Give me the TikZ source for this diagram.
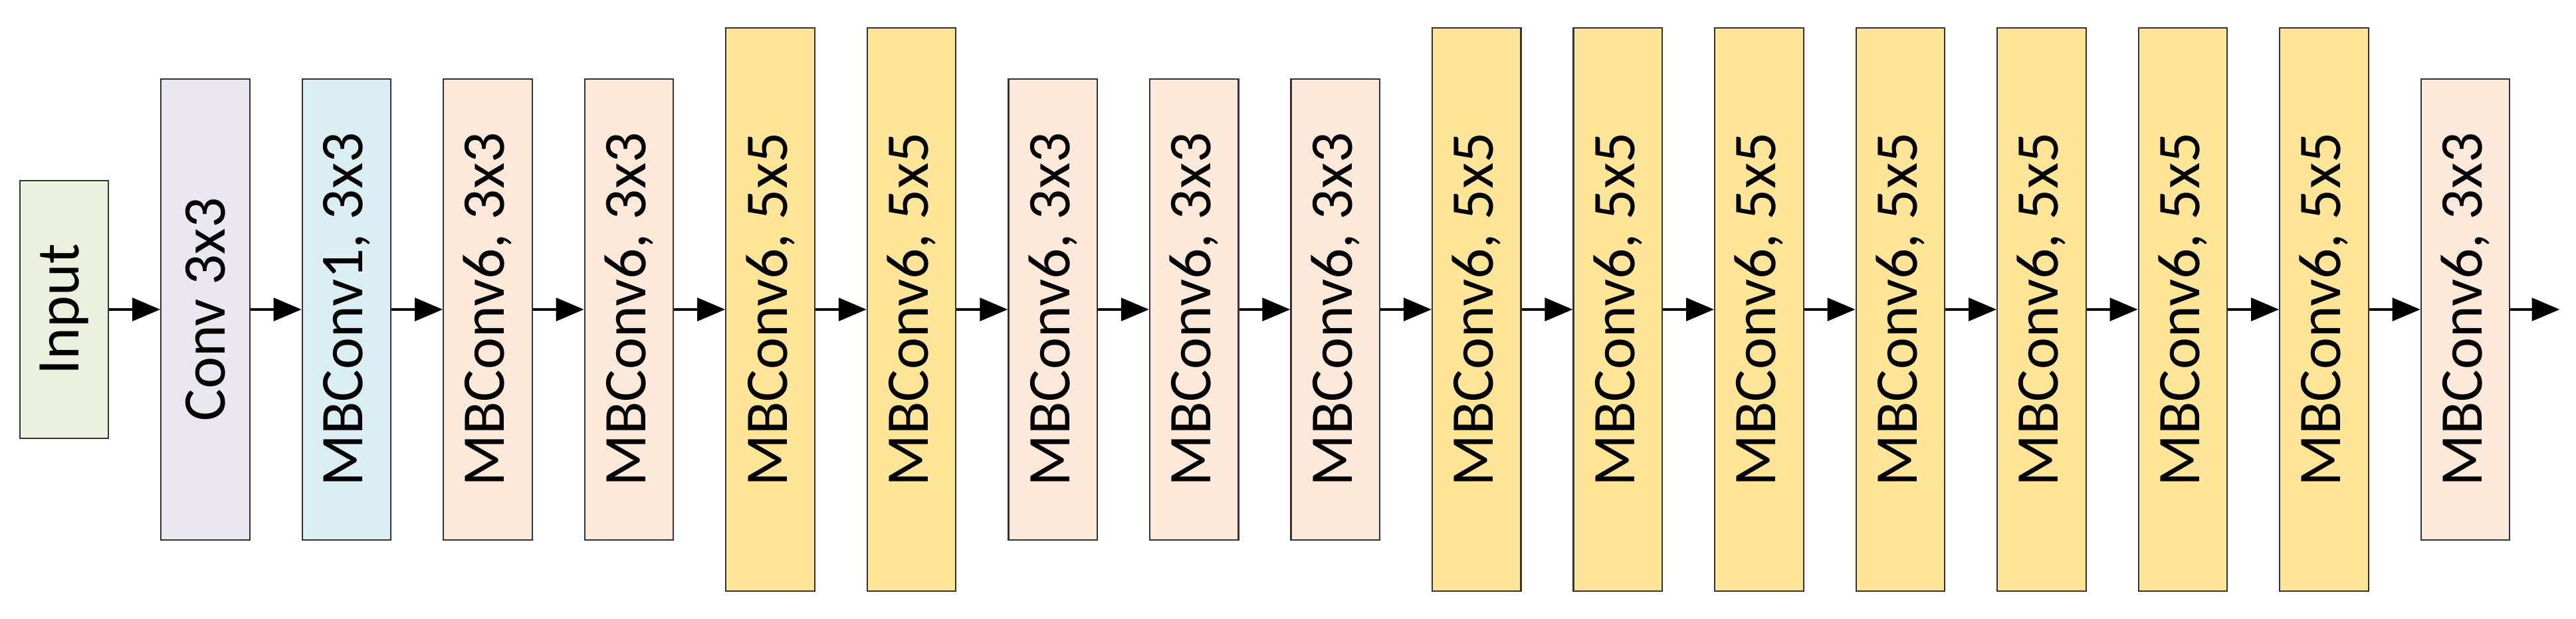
\documentclass[tikz,border=0pt]{standalone}
\usepackage{fontspec}
\setmainfont{Carlito}
\usetikzlibrary{positioning,arrows.meta}
\definecolor{inCol}{HTML}{EBF1DE}
\definecolor{convCol}{HTML}{EAE7F1}
\definecolor{mbOneCol}{HTML}{DBEEF4}
\definecolor{threeCol}{HTML}{FDE9DA}
\definecolor{fiveCol}{HTML}{FFE597}
\tikzset{
  blk/.style={draw=black!80, line width=0.5pt, minimum width=1.08cm, inner sep=0pt, font=\fontsize{21}{24}\selectfont},
  small/.style={blk, minimum height=3.14cm, fill=inCol},
  mid/.style={blk, minimum height=5.62cm},
  tall/.style={blk, minimum height=6.86cm, fill=fiveCol},
  flow/.style={-{Triangle[length=0.34cm,width=0.28cm]}, line width=0.9pt}
}
\begin{document}
\begin{tikzpicture}[node distance=0.622cm]
  \useasboundingbox (0,0) rectangle (31.36,7.54);
  \node[small] (b0) at (0.78,3.77) {\rotatebox{90}{Input}};
  \node[mid, fill=convCol, right=of b0] (b1) {\rotatebox{90}{Conv 3x3}};
  \node[mid, fill=mbOneCol, right=of b1] (b2) {\rotatebox{90}{MBConv1, 3x3}};
  \node[mid, fill=threeCol, right=of b2] (b3) {\rotatebox{90}{MBConv6, 3x3}};
  \node[mid, fill=threeCol, right=of b3] (b4) {\rotatebox{90}{MBConv6, 3x3}};
  \node[tall, right=of b4] (b5) {\rotatebox{90}{MBConv6, 5x5}};
  \node[tall, right=of b5] (b6) {\rotatebox{90}{MBConv6, 5x5}};
  \node[mid, fill=threeCol, right=of b6] (b7) {\rotatebox{90}{MBConv6, 3x3}};
  \node[mid, fill=threeCol, right=of b7] (b8) {\rotatebox{90}{MBConv6, 3x3}};
  \node[mid, fill=threeCol, right=of b8] (b9) {\rotatebox{90}{MBConv6, 3x3}};
  \node[tall, right=of b9] (b10) {\rotatebox{90}{MBConv6, 5x5}};
  \node[tall, right=of b10] (b11) {\rotatebox{90}{MBConv6, 5x5}};
  \node[tall, right=of b11] (b12) {\rotatebox{90}{MBConv6, 5x5}};
  \node[tall, right=of b12] (b13) {\rotatebox{90}{MBConv6, 5x5}};
  \node[tall, right=of b13] (b14) {\rotatebox{90}{MBConv6, 5x5}};
  \node[tall, right=of b14] (b15) {\rotatebox{90}{MBConv6, 5x5}};
  \node[tall, right=of b15] (b16) {\rotatebox{90}{MBConv6, 5x5}};
  \node[mid, fill=threeCol, right=of b16] (b17) {\rotatebox{90}{MBConv6, 3x3}};
  \coordinate[right=0.6cm of b17] (out);
  % arrows between blocks
  \foreach \i [count=\j from 1] in {0,...,16}
    \draw[flow] (b\i) -- (b\j);
  \draw[flow] (b17) -- (out);
\end{tikzpicture}
\end{document}
